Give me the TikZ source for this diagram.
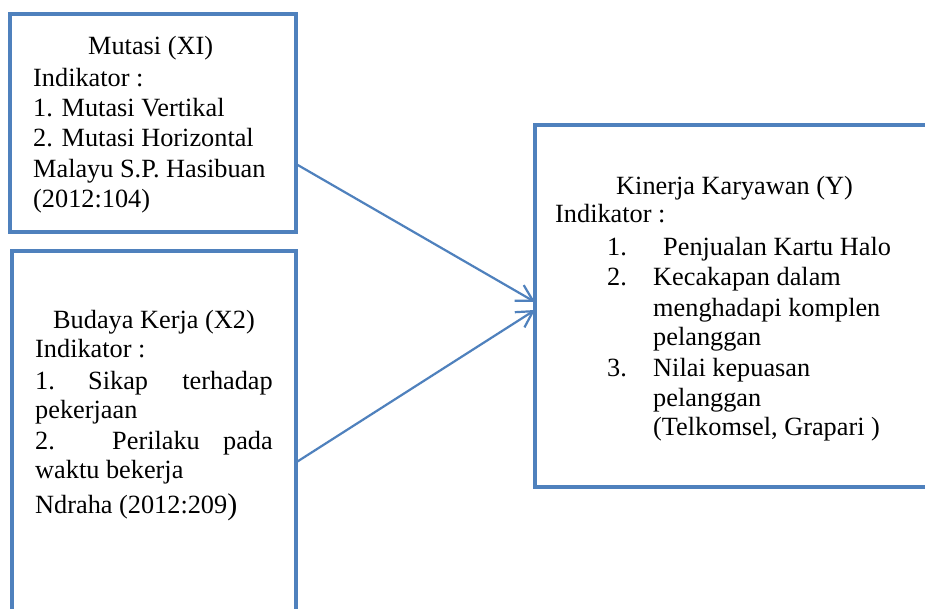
\documentclass[tikz,border=0pt]{standalone}
\usepackage{fontspec}
\setmainfont{Liberation Serif}
\usetikzlibrary{arrows.meta,calc}
\definecolor{wordblue}{HTML}{4F81BD}
\begin{document}
\begin{tikzpicture}[x=1pt,y=-1pt,
  box/.style={draw=wordblue, line width=4.5pt, rectangle, inner sep=0pt, outer sep=0pt, anchor=north west},
  txt/.style={anchor=base west, inner sep=0pt, font=\fontsize{26.3}{30}\selectfont},
  txtr/.style={anchor=base east, inner sep=0pt, font=\fontsize{26.3}{30}\selectfont},
  conn/.style={draw=wordblue, line width=2.2pt, -{Straight Barb[length=16pt,width=18pt,line width=2.2pt]}}]
\clip (0,0) rectangle (925,609);
\fill[white] (0,0) rectangle (925,609);
% boxes
\node[box, minimum width=286pt, minimum height=218pt] (b1) at (10,14) {};
\node[box, minimum width=284pt, minimum height=422pt] (b2) at (12,251) {};
\node[box, minimum width=420pt, minimum height=362pt] (b3) at (535,125) {};
% box 1 text
\node[txt] (t11) at (88,55) {Mutasi (XI)};
\node[txt] (t12) at (33,87) {Indikator :};
\node[txt] (t13) at (33,117) {1. Mutasi Vertikal};
\node[txt] (t14) at (33,147) {2. Mutasi Horizontal};
\node[txt] (t15) at (33,178) {Malayu S.P. Hasibuan};
\node[txt] (t16) at (33,208) {(2012:104)};
% box 2 text
\node[txt] (t21) at (53,328) {Budaya Kerja (X2)};
\node[txt] (t22) at (35,357) {Indikator :};
\node[txt] (t23a) at (35,389) {1.};
\node[txt] (t23b) at (88,389) {Sikap};
\node[txtr] (t23c) at (273,389) {terhadap};
\node[txt] (t24) at (35,418) {pekerjaan};
\node[txt] (t25a) at (35,449) {2.};
\node[txt] (t25b) at (112,449) {Perilaku};
\node[txtr] (t25c) at (273,449) {pada};
\node[txt] (t26) at (35,478) {waktu bekerja};
\node[txt] (t27) at (35,513) {Ndraha (2012:209\raisebox{-1pt}{\fontsize{30}{30}\selectfont)}};
% box 3 text
\node[txt] (t31) at (616,195) {Kinerja Karyawan (Y)};
\node[txt] (t32) at (555,223) {Indikator :};
\node[txt] (t33a) at (607,256) {1.};
\node[txt] (t33b) at (663,256) {Penjualan Kartu Halo};
\node[txt] (t34a) at (607,286) {2.};
\node[txt] (t34b) at (653,286) {Kecakapan dalam};
\node[txt] (t35) at (653,316) {menghadapi komplen};
\node[txt] (t36) at (653,345) {pelanggan};
\node[txt] (t37a) at (607,376) {3.};
\node[txt] (t37b) at (653,376) {Nilai kepuasan};
\node[txt] (t38) at (653,406) {pelanggan};
\node[txt] (t39) at (653,435) {(Telkomsel, Grapari )};
% connectors
\draw[conn] ($(b1.north east)!0.688!(b1.south east)$) -- ($(b3.north west)!0.489!(b3.south west)$);
\draw[conn] ($(b2.north east)!0.501!(b2.south east)$) -- ($(b3.north west)!0.511!(b3.south west)$);
\end{tikzpicture}
\end{document}
